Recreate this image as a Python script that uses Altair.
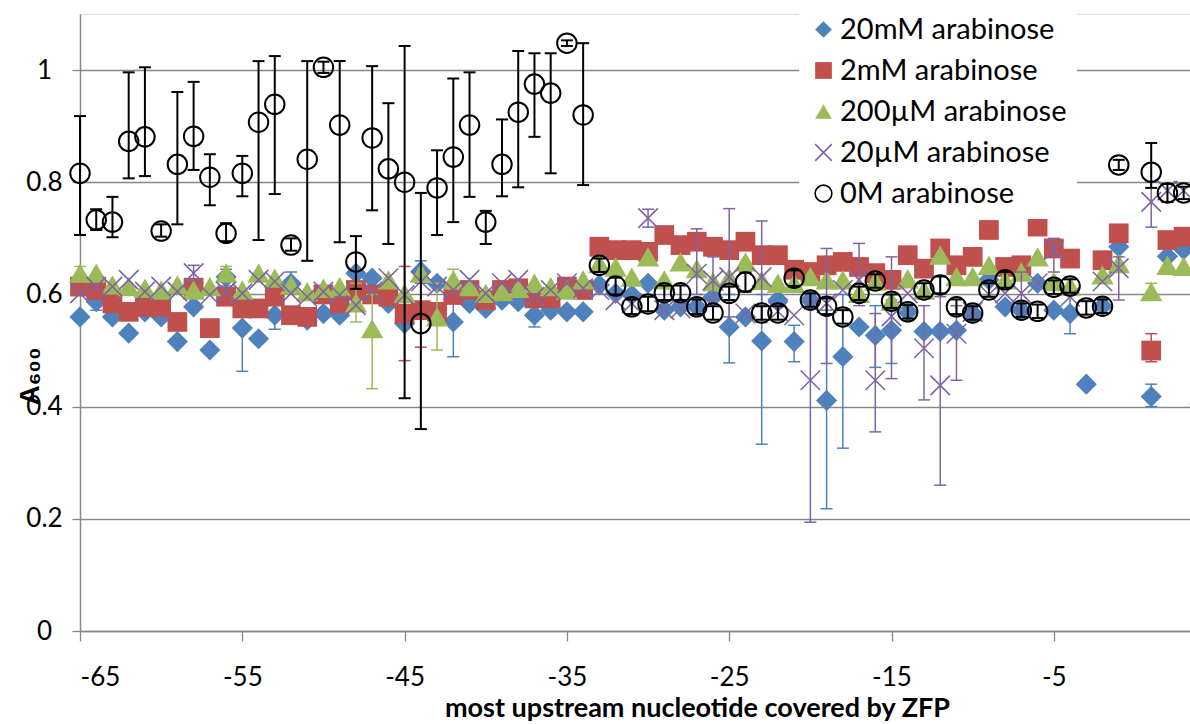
import altair as alt
import pandas as pd

# nucleotide positions (x) -65 .. 4
positions = list(range(-65, 5))

series_names = ["20mM arabinose", "2mM arabinose", "200µM arabinose", "20µM arabinose", "0M arabinose"]

blue_y = [0.560, 0.587, 0.560, 0.531, 0.569, 0.560, 0.516, 0.578, 0.501, 0.631,
          0.540, 0.521, 0.563, 0.620, 0.554, 0.566, 0.563, 0.638, 0.629, 0.584,
          0.548, 0.641, 0.620, 0.551, 0.584, 0.575, 0.590, 0.587, 0.563, 0.572,
          0.569, 0.569, 0.617, 0.602, 0.599, 0.620, 0.572, 0.578, 0.578, 0.595,
          0.542, 0.560, 0.517, 0.590, 0.516, 0.590, 0.411, 0.489, 0.542, 0.527,
          0.536, 0.569, 0.534, 0.534, 0.536, 0.566, 0.626, 0.578, 0.572, 0.620,
          0.572, 0.566, 0.440, 0.579, 0.685, None, 0.418, 0.668, 0.680, 0.405]

red_y = [0.614, 0.608, 0.584, 0.569, 0.578, 0.578, 0.551, 0.612, 0.540, 0.596,
         0.575, 0.575, 0.596, 0.563, 0.560, 0.600, 0.584, 0.608, 0.600, 0.596,
         0.566, 0.572, 0.569, 0.599, 0.608, 0.590, 0.608, 0.611, 0.593, 0.593,
         0.614, 0.608, 0.685, 0.679, 0.679, 0.676, 0.706, 0.688, 0.694, 0.685,
         0.679, 0.694, 0.670, 0.670, 0.644, 0.640, 0.652, 0.658, 0.649, 0.638,
         0.626, 0.670, 0.646, 0.682, 0.652, 0.667, 0.715, 0.649, 0.652, 0.721,
         0.682, 0.664, None, 0.661, 0.709, None, 0.500, 0.697, 0.703, 0.440]

green_y = [0.638, 0.638, 0.617, 0.614, 0.611, 0.608, 0.617, 0.608, 0.614, 0.638,
           0.608, 0.638, 0.629, 0.617, 0.605, 0.611, 0.614, 0.585, 0.539, 0.626,
           0.602, 0.638, 0.560, 0.626, 0.614, 0.602, 0.605, 0.611, 0.620, 0.614,
           0.608, 0.626, 0.655, 0.649, 0.631, 0.667, 0.626, 0.658, 0.646, 0.623,
           0.630, 0.658, 0.625, 0.620, 0.620, 0.632, 0.626, 0.626, 0.602, 0.624,
           0.588, 0.628, 0.608, 0.670, 0.632, 0.632, 0.652, 0.626, 0.640, 0.667,
           0.623, 0.615, None, 0.635, 0.655, None, 0.605, 0.652, 0.650, None]

purple_y = [0.602, 0.614, 0.614, 0.626, 0.605, 0.614, 0.605, 0.638, 0.599, 0.605,
            0.602, 0.626, 0.623, 0.602, 0.596, 0.605, 0.599, 0.581, 0.605, 0.629,
            0.599, 0.623, 0.614, 0.608, 0.626, 0.602, 0.620, 0.626, 0.596, 0.608,
            0.620, 0.611, 0.608, 0.590, 0.584, 0.736, 0.572, 0.575, 0.637, 0.625,
            0.631, 0.566, 0.631, 0.570, 0.563, 0.447, 0.584, 0.608, 0.626, 0.447,
            0.561, 0.602, 0.504, 0.438, 0.530, 0.569, 0.600, 0.602, 0.602, 0.620,
            0.679, 0.596, None, 0.623, 0.647, None, 0.765, 0.785, 0.785, None]

black_y = [0.816, 0.733, 0.729, 0.873, 0.881, 0.713, 0.832, 0.882, 0.809, 0.709,
           0.816, 0.907, 0.939, 0.688, 0.841, 1.005, 0.902, 0.658, 0.879, 0.824,
           0.800, 0.548, 0.790, 0.845, 0.902, 0.729, 0.832, 0.925, 0.975, 0.959,
           1.048, 0.920, 0.652, 0.615, 0.578, 0.583, 0.603, 0.603, 0.578, 0.567,
           0.602, 0.622, 0.567, 0.567, 0.629, 0.590, 0.579, 0.560, 0.602, 0.624,
           0.588, 0.569, 0.608, 0.617, 0.578, 0.567, 0.608, 0.626, 0.572, 0.570,
           0.613, 0.615, 0.576, 0.579, 0.831, None, 0.818, 0.781, 0.781, None]

black_lo = [0.706, 0.715, 0.702, 0.807, 0.811, 0.703, 0.725, 0.822, 0.759, 0.695,
            0.775, 0.697, 0.779, 0.678, 0.660, 0.995, 0.693, 0.610, 0.750, 0.690,
            0.415, 0.360, 0.706, 0.729, 0.774, 0.690, 0.775, 0.791, 0.881, 0.816,
            1.043, 0.795, 0.640, 0.600, 0.565, 0.570, 0.590, 0.590, 0.565, 0.555,
            0.590, 0.605, 0.555, 0.555, 0.615, 0.578, 0.565, 0.548, 0.590, 0.612,
            0.576, 0.557, 0.596, 0.602, 0.565, 0.555, 0.596, 0.612, 0.560, 0.558,
            0.601, 0.603, 0.564, 0.567, 0.822, None, 0.790, 0.765, 0.770, None]

black_hi = [0.918, 0.752, 0.774, 0.996, 1.005, 0.725, 0.961, 0.979, 0.850, 0.727,
            0.847, 1.016, 1.025, 0.700, 1.016, 1.015, 1.016, 0.704, 1.007, 0.941,
            1.043, 0.781, 0.857, 0.985, 0.996, 0.749, 0.912, 1.034, 1.030, 1.030,
            1.053, 1.048, 0.664, 0.630, 0.591, 0.596, 0.616, 0.616, 0.591, 0.579,
            0.614, 0.639, 0.579, 0.579, 0.643, 0.602, 0.593, 0.572, 0.614, 0.636,
            0.600, 0.581, 0.620, 0.632, 0.591, 0.579, 0.620, 0.640, 0.584, 0.582,
            0.625, 0.627, 0.588, 0.591, 0.840, None, 0.870, 0.797, 0.792, None]

# error bars (low, high) keyed by nucleotide position, only where visible
blue_err = {-64: (0.572, 0.600), -56: (0.615, 0.645), -55: (0.463, 0.600), -53: (0.538, 0.585),
            -52: (0.605, 0.640), -44: (0.620, 0.660), -42: (0.489, 0.610), -37: (0.542, 0.585),
            -25: (0.478, 0.600), -23: (0.333, 0.600), -21: (0.480, 0.545), -19: (0.218, 0.572),
            -18: (0.326, 0.600), -16: (0.470, 0.580), -15: (0.477, 0.590), -4: (0.530, 0.600),
            1: (0.400, 0.440)}
red_err = {-45: (0.482, 0.650), -44: (0.506, 0.640), -9: (0.700, 0.730), 1: (0.480, 0.530)}
green_err = {-65: (0.625, 0.650), -56: (0.625, 0.650), -48: (0.551, 0.620), -47: (0.432, 0.600),
             -43: (0.501, 0.620), -42: (0.610, 0.645), 1: (0.590, 0.620)}
purple_err = {-58: (0.625, 0.652), -30: (0.720, 0.752), -27: (0.600, 0.717), -26: (0.590, 0.667),
              -25: (0.560, 0.753), -23: (0.550, 0.731), -20: (0.194, 0.587), -19: (0.477, 0.682),
              -17: (0.580, 0.691), -16: (0.355, 0.566), -15: (0.450, 0.667), -13: (0.412, 0.580),
              -12: (0.260, 0.596), -11: (0.447, 0.580), -7: (0.570, 0.640), -5: (0.640, 0.700),
              -1: (0.590, 0.667), 1: (0.720, 0.800)}

fills = ["#4F81BD", "#C0504D", "#9BBB59", "transparent", "transparent"]
strokes = ["transparent", "transparent", "transparent", "#8064A2", "#000000"]
shapes = ["diamond", "square", "triangle-up", "M-1,-1L1,1M-1,1L1,-1", "circle"]
err_colors = ["#4F81BD", "#C0504D", "#9BBB59", "#8064A2", "#000000"]
sizes = [450, 390, 500, 380, 380]
stroke_widths = [1, 1, 1, 1.6, 2]
err_widths = [1.5, 1.5, 1.5, 1.5, 2]

ys = [blue_y, red_y, green_y, purple_y, black_y]
errs = [blue_err, red_err, green_err, purple_err, None]

pt_rows = []
err_rows = []
for s, name in enumerate(series_names):
    for i, x in enumerate(positions):
        v = ys[s][i]
        if v is not None:
            pt_rows.append({"x": x, "y": v, "series": name})
    if errs[s] is not None:
        for x, (lo, hi) in errs[s].items():
            err_rows.append({"x": x, "lo": lo, "hi": hi, "series": name})
    else:
        for i, x in enumerate(positions):
            if black_lo[i] is not None:
                err_rows.append({"x": x, "lo": black_lo[i], "hi": black_hi[i], "series": name})

pts = pd.DataFrame(pt_rows)
errdf = pd.DataFrame(err_rows)

GRID = "#878787"
FONT = "Lato, DejaVu Sans, sans-serif"
x_enc = alt.X("x:Q", scale=alt.Scale(domain=[-65, 3.39], nice=False, zero=False),
              axis=alt.Axis(values=[-65, -55, -45, -35, -25, -15, -5],
                            labelExpr="datum.value < 0 ? '-' + abs(datum.value) : '' + datum.value",
                            grid=False, domainColor=GRID, domainWidth=1.5, tickColor=GRID,
                            tickWidth=1.3, tickSize=10, labelFont=FONT,
                            labelFontSize=26, labelColor="#000000", labelPadding=23,
                            title="most upstream nucleotide covered by ZFP",
                            titleFont=FONT, titleFontSize=27,
                            titleFontWeight="bold", titleColor="#000000",
                            titleX=617, titleY=77, titleBaseline="middle"))
y_scale = alt.Scale(domain=[0, 1.1], nice=False, zero=True)
y_axis = alt.Axis(values=[0, 0.2, 0.4, 0.6, 0.8, 1.0], format="~g", grid=True,
                  gridColor=GRID, gridWidth=1.3, domainColor=GRID, domainWidth=1.5,
                  tickColor=GRID, tickWidth=1.3, tickSize=8, labelFont=FONT,
                  labelFontSize=26, labelColor="#000000", labelAlign="center",
                  labelPadding=28, title="A₆₀₀", titleFont="Liberation Sans, DejaVu Sans",
                  titleFontSize=28, titleFontWeight="bold", titleColor="#000000",
                  titleX=-50, titleY=362, titleAngle=270, titleBaseline="middle")

legend = alt.Legend(title=None, orient="none", legendX=719, legendY=-9, fillColor="white",
                    padding=10, labelFont=FONT, labelFontSize=29, labelColor="#000000",
                    symbolSize=280, symbolStrokeWidth=1.6, rowPadding=11, labelOffset=2,
                    labelLimit=400)

layers = []
for s, name in enumerate(series_names):
    e = errdf[errdf["series"] == name]
    p = pts[pts["series"] == name]
    ebase = alt.Chart(e)
    layers.append(ebase.mark_rule(color=err_colors[s], strokeWidth=err_widths[s]).encode(
        x=x_enc, y=alt.Y("lo:Q", scale=y_scale, axis=y_axis), y2="hi:Q"))
    for col in ["lo", "hi"]:
        layers.append(ebase.mark_tick(color=err_colors[s], orient="horizontal", size=12,
                                      thickness=err_widths[s], opacity=1).encode(
            x=x_enc, y=alt.Y(f"{col}:Q", scale=y_scale, axis=y_axis)))
    layers.append(alt.Chart(p).mark_point(size=sizes[s], strokeWidth=stroke_widths[s], opacity=1).encode(
        x=x_enc,
        y=alt.Y("y:Q", scale=y_scale, axis=y_axis),
        shape=alt.Shape("series:N", scale=alt.Scale(domain=series_names, range=shapes), legend=legend),
        fill=alt.Fill("series:N", scale=alt.Scale(domain=series_names, range=fills), legend=legend),
        stroke=alt.Stroke("series:N", scale=alt.Scale(domain=series_names, range=strokes), legend=legend),
    ))

chart = alt.layer(*layers).properties(
    width=1110, height=617,
    autosize=alt.AutoSizeParams(type="none"),
    padding={"left": 80, "top": 14, "right": 0, "bottom": 93},
).configure_view(stroke=None).configure(background="white")

chart.save("out.html", embed_options={"renderer": "svg", "actions": False})
